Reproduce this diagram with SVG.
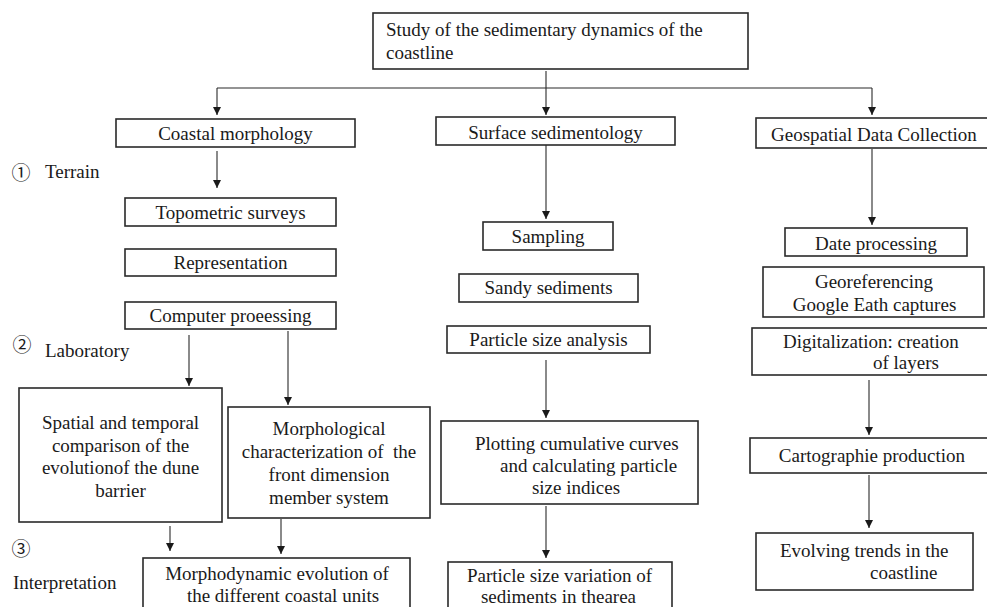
<svg xmlns="http://www.w3.org/2000/svg" width="987" height="607" viewBox="0 0 987 607">
<style>
.box{fill:#fff;stroke:#2a2a2a;stroke-width:1.6}
text{font-family:'Liberation Serif','Times New Roman',Tinos,'DejaVu Serif',serif;font-size:19px;fill:#1a1a1a}
.m{text-anchor:middle}
text.c{font-family:'Noto Sans CJK JP','DejaVu Sans',sans-serif;text-anchor:middle}
.ln{fill:none;stroke:#2a2a2a;stroke-width:1.1}
</style>
<defs>
<marker id="ah" viewBox="0 0 10 10" refX="10" refY="5" markerWidth="11" markerHeight="8" orient="auto" markerUnits="userSpaceOnUse">
<path d="M0,0 L10,5 L0,10 z" fill="#1a1a1a"/>
</marker>
</defs>
<rect width="987" height="607" fill="#fff"/>

<g id="connectors">
<line class="ln" x1="546" y1="71" x2="546" y2="115" marker-end="url(#ah)"/>
<line class="ln" x1="217" y1="88" x2="872" y2="88"/>
<line class="ln" x1="217" y1="88" x2="217" y2="115" marker-end="url(#ah)"/>
<line class="ln" x1="872" y1="88" x2="872" y2="115" marker-end="url(#ah)"/>
<line class="ln" x1="217" y1="151" x2="217" y2="188" marker-end="url(#ah)"/>
<line class="ln" x1="546" y1="145" x2="546" y2="219" marker-end="url(#ah)"/>
<line class="ln" x1="872" y1="149" x2="872" y2="225" marker-end="url(#ah)"/>
<line class="ln" x1="189" y1="335" x2="189" y2="386" marker-end="url(#ah)"/>
<line class="ln" x1="288" y1="331" x2="288" y2="405" marker-end="url(#ah)"/>
<line class="ln" x1="546" y1="360" x2="546" y2="418" marker-end="url(#ah)"/>
<line class="ln" x1="546" y1="506" x2="546" y2="558" marker-end="url(#ah)"/>
<line class="ln" x1="170" y1="526" x2="170" y2="551" marker-end="url(#ah)"/>
<line class="ln" x1="281" y1="519" x2="281" y2="554" marker-end="url(#ah)"/>
<line class="ln" x1="869" y1="380" x2="869" y2="435" marker-end="url(#ah)"/>
<line class="ln" x1="869" y1="475" x2="869" y2="528" marker-end="url(#ah)"/>
</g>

<g id="labels">
<text class="c" x="21" y="180" font-size="20">①</text>
<text x="45" y="178">Terrain</text>
<text class="c" x="22" y="352" font-size="15">②</text>
<text x="45" y="357">Laboratory</text>
<text class="c" x="21" y="556" font-size="19">③</text>
<text x="13" y="589">Interpretation</text>
</g>

<g id="n-study">
<rect class="box" x="373" y="13" width="375" height="56"/>
<text x="386" y="36">Study of the sedimentary dynamics of the</text>
<text x="386" y="59">coastline</text>
</g>

<g id="n-coastal">
<rect class="box" x="116" y="119" width="239" height="28"/>
<text class="m" x="235.5" y="140">Coastal morphology</text>
</g>
<g id="n-surface">
<rect class="box" x="436" y="117" width="239" height="28"/>
<text class="m" x="555.5" y="139">Surface sedimentology</text>
</g>
<g id="n-geo">
<rect class="box" x="756" y="118" width="232" height="30"/>
<text x="771" y="141">Geospatial Data Collection</text>
</g>

<g id="n-topo">
<rect class="box" x="125" y="198" width="211" height="28"/>
<text class="m" x="230.5" y="219">Topometric surveys</text>
</g>
<g id="n-repr">
<rect class="box" x="125" y="249" width="211" height="27"/>
<text class="m" x="230.5" y="269">Representation</text>
</g>
<g id="n-comp">
<rect class="box" x="125" y="302" width="211" height="27"/>
<text class="m" x="230.5" y="322">Computer proeessing</text>
</g>

<g id="n-sampling">
<rect class="box" x="483" y="222" width="130" height="28"/>
<text class="m" x="548" y="243">Sampling</text>
</g>
<g id="n-sandy">
<rect class="box" x="459" y="274" width="179" height="28"/>
<text class="m" x="548.5" y="294">Sandy sediments</text>
</g>
<g id="n-psa">
<rect class="box" x="447" y="326" width="203" height="27"/>
<text class="m" x="548.5" y="346">Particle size analysis</text>
</g>

<g id="n-date">
<rect class="box" x="785" y="228" width="182" height="28"/>
<text class="m" x="876" y="250">Date processing</text>
</g>
<g id="n-georef">
<rect class="box" x="763" y="267" width="221" height="50"/>
<text class="m" x="874" y="288">Georeferencing</text>
<text class="m" x="874.5" y="311">Google Eath captures</text>
</g>
<g id="n-digit">
<rect class="box" x="752" y="328" width="236" height="47"/>
<text x="783" y="348">Digitalization: creation</text>
<text x="873" y="369">of layers</text>
</g>

<g id="n-spatial">
<rect class="box" x="19" y="388" width="203" height="134"/>
<text class="m" x="120.5" y="429">Spatial and temporal</text>
<text class="m" x="120.5" y="452">comparison of the</text>
<text class="m" x="120.5" y="474">evolutionof the dune</text>
<text class="m" x="120.5" y="497">barrier</text>
</g>
<g id="n-morph">
<rect class="box" x="228" y="407" width="202" height="111"/>
<text class="m" x="329" y="435">Morphological</text>
<text class="m" x="329" y="458" xml:space="preserve">characterization of  the</text>
<text class="m" x="329" y="481">front dimension</text>
<text class="m" x="329" y="504">member system</text>
</g>
<g id="n-plot">
<rect class="box" x="441" y="421" width="257" height="83"/>
<text x="475" y="450">Plotting cumulative curves</text>
<text x="500" y="472">and calculating particle</text>
<text class="m" x="576" y="494">size indices</text>
</g>
<g id="n-carto">
<rect class="box" x="750" y="438" width="238" height="35"/>
<text class="m" x="872" y="462">Cartographie production</text>
</g>

<g id="n-morphodyn">
<rect class="box" x="143" y="558" width="267" height="60"/>
<text class="m" x="277" y="580">Morphodynamic evolution of</text>
<text class="m" x="283" y="602">the different coastal units</text>
</g>
<g id="n-psv">
<rect class="box" x="448" y="562" width="224" height="56"/>
<text class="m" x="559.5" y="582">Particle size variation of</text>
<text class="m" x="558.5" y="603">sediments in thearea</text>
</g>
<g id="n-evolving">
<rect class="box" x="756" y="533" width="217" height="57"/>
<text x="780" y="557">Evolving trends in the</text>
<text x="870" y="579">coastline</text>
</g>
</svg>
